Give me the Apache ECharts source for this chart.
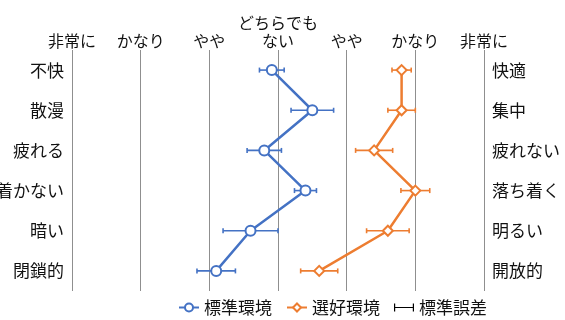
<!DOCTYPE html>
<html>
<head>
<meta charset="utf-8">
<script src="https://cdn.jsdelivr.net/npm/echarts@6/dist/echarts.min.js"></script>
<style>
html,body{margin:0;padding:0;background:#fff;}
#c{width:565px;height:320px;}
</style>
</head>
<body>
<div id="c"></div>
<script>
// ---- data ----
var leftLabels = ['不快', '散漫', '疲れる', '落ち着かない', '暗い', '閉鎖的'];
var rightLabels = ['快適', '集中', '疲れない', '落ち着く', '明るい', '開放的'];
var scaleLabels = ['非常に', 'かなり', 'やや', 'どちらでも\nない', 'やや', 'かなり', '非常に'];
var scaleValues = [-3, -2, -1, 0, 1, 2, 3];
var standardMean = [-0.09, 0.50, -0.20, 0.40, -0.40, -0.90];
var standardSE = [0.18, 0.31, 0.25, 0.16, 0.40, 0.28];
var preferredMean = [1.80, 1.80, 1.40, 2.00, 1.60, 0.60];
var preferredSE = [0.14, 0.20, 0.27, 0.21, 0.31, 0.27];
var seriesNames = ['標準環境', '選好環境', '標準誤差'];

// ---- styles ----
var FONT = '"Noto Sans CJK JP", "Noto Sans", sans-serif';
var BLUE = '#4472C4';
var ORANGE = '#ED7D31';
var TXT = '#111111';
var colors = [BLUE, ORANGE];

var lineData = function (means) {
  return means.map(function (v, i) { return [v, i]; });
};
var errData = [];
standardMean.forEach(function (v, i) { errData.push([v, i, standardSE[i], 0]); });
preferredMean.forEach(function (v, i) { errData.push([v, i, preferredSE[i], 1]); });

var chart = echarts.init(document.getElementById('c'), null, { renderer: 'canvas' });
chart.setOption({
  animation: false,
  backgroundColor: '#ffffff',
  textStyle: { fontFamily: FONT },
  grid: { left: 72, right: 81, top: 50, height: 241, containLabel: false, outerBoundsMode: 'none' },
  xAxis: {
    type: 'value',
    position: 'top',
    min: scaleValues[0],
    max: scaleValues[scaleValues.length - 1],
    interval: 1,
    axisLine: { show: false },
    axisTick: { show: false },
    splitLine: { show: true, lineStyle: { color: '#8f8f8f', width: 1 } },
    axisLabel: {
      show: true,
      margin: 0,
      fontSize: 16,
      lineHeight: 18,
      color: TXT,
      fontFamily: FONT,
      formatter: function (v) {
        var idx = scaleValues.indexOf(Math.round(v));
        return idx >= 0 ? scaleLabels[idx] : '';
      }
    }
  },
  yAxis: [
    {
      type: 'category',
      data: leftLabels,
      inverse: true,
      position: 'left',
      axisLine: { show: false },
      axisTick: { show: false },
      splitLine: { show: false },
      axisLabel: { margin: 8, fontSize: 17, color: TXT, fontFamily: FONT }
    },
    {
      type: 'category',
      data: rightLabels,
      inverse: true,
      position: 'right',
      axisLine: { show: false },
      axisTick: { show: false },
      splitLine: { show: false },
      axisLabel: { margin: 8, fontSize: 17, color: TXT, fontFamily: FONT }
    }
  ],
  legend: {
    left: 178,
    top: 299,
    padding: 0,
    itemWidth: 20,
    itemHeight: 10,
    itemGap: 14,
    textStyle: { fontSize: 17, color: TXT, fontFamily: FONT },
    data: [
      { name: seriesNames[0] },
      { name: seriesNames[1] },
      { name: seriesNames[2], icon: 'path://M0,0h1.5v4.25h22v-4.25h1.5v10h-1.5v-4.25h-22v4.25h-1.5z', itemStyle: { color: '#000000' } }
    ]
  },
  series: [
    {
      name: seriesNames[2],
      type: 'custom',
      xAxisIndex: 0,
      yAxisIndex: 0,
      z: 1,
      itemStyle: { color: '#000000' },
      encode: { x: 0, y: 1 },
      data: errData,
      renderItem: function (params, api) {
        var m = api.value(0), y = api.value(1), e = api.value(2), s = api.value(3);
        var p1 = api.coord([m - e, y]);
        var p2 = api.coord([m + e, y]);
        var h = 2.5;
        var st = { stroke: colors[s], lineWidth: 1.6 };
        return {
          type: 'group',
          children: [
            { type: 'line', shape: { x1: p1[0], y1: p1[1], x2: p2[0], y2: p2[1] }, style: st },
            { type: 'line', shape: { x1: p1[0], y1: p1[1] - h, x2: p1[0], y2: p1[1] + h }, style: st },
            { type: 'line', shape: { x1: p2[0], y1: p2[1] - h, x2: p2[0], y2: p2[1] + h }, style: st }
          ]
        };
      }
    },
    {
      name: seriesNames[0],
      type: 'line',
      z: 3,
      data: lineData(standardMean),
      symbol: 'circle',
      symbolSize: 10,
      color: BLUE,
      lineStyle: { color: BLUE, width: 2.5 },
      itemStyle: { color: '#ffffff', borderColor: BLUE, borderWidth: 2 }
    },
    {
      name: seriesNames[1],
      type: 'line',
      z: 3,
      data: lineData(preferredMean),
      symbol: 'diamond',
      symbolSize: 10,
      color: ORANGE,
      lineStyle: { color: ORANGE, width: 2.5 },
      itemStyle: { color: '#ffffff', borderColor: ORANGE, borderWidth: 2 }
    }
  ]
});
</script>
</body>
</html>
